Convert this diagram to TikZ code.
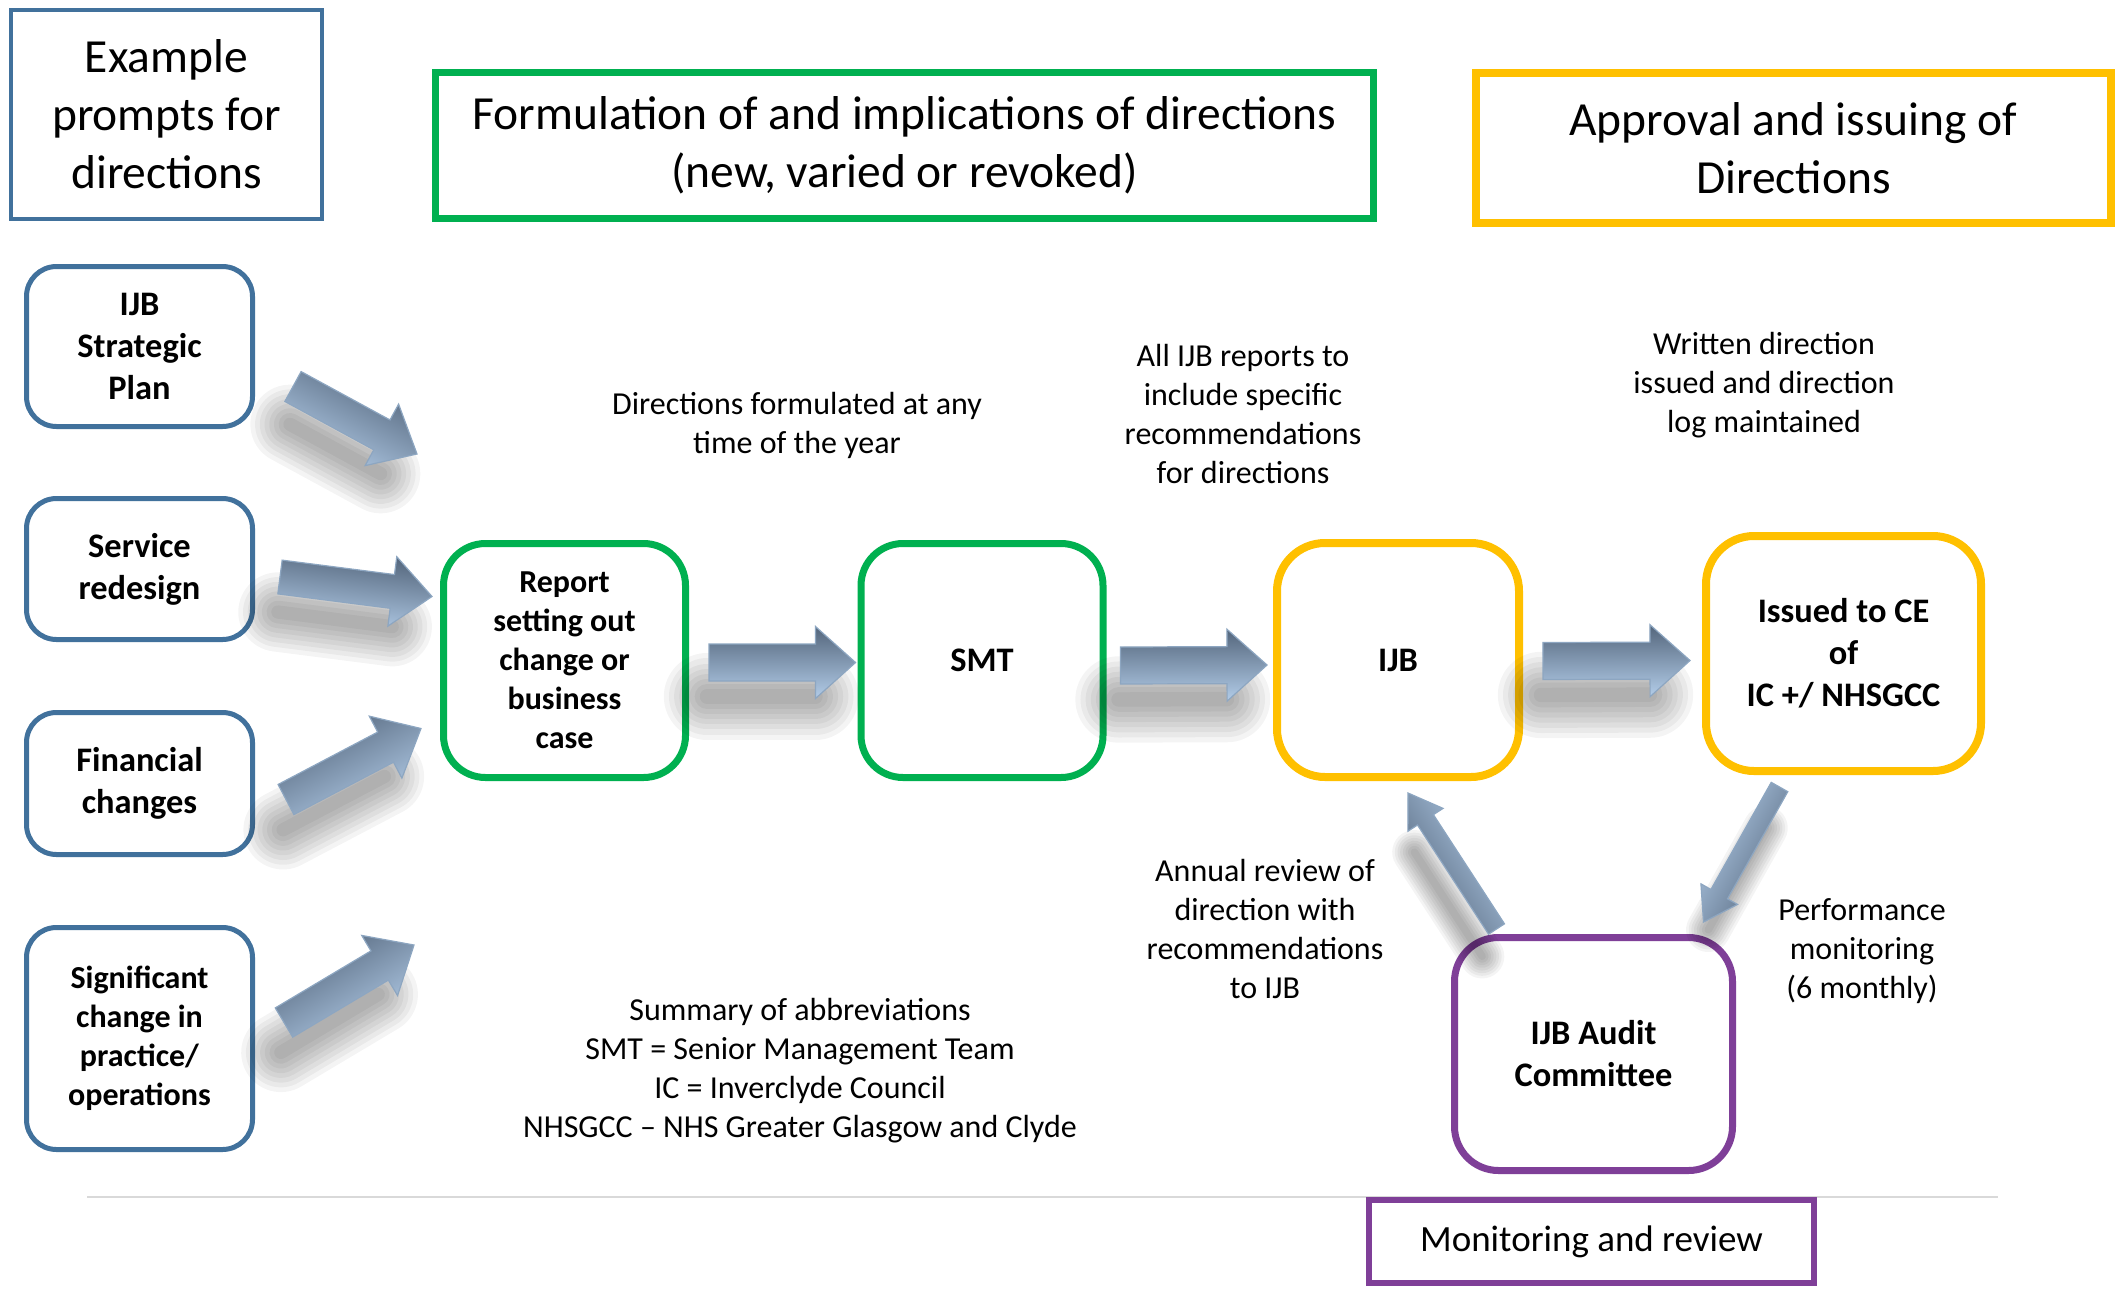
\documentclass[tikz,border=0pt]{standalone}
\usepackage{fontspec}
\setmainfont{Carlito}
\usetikzlibrary{calc}
\definecolor{bblue}{HTML}{41719C}
\definecolor{ggreen}{HTML}{00B050}
\definecolor{oorange}{HTML}{FFC000}
\definecolor{ppurple}{HTML}{7F3F98}
\definecolor{adark}{HTML}{53657B}
\definecolor{alight}{HTML}{B3CDE9}
\definecolor{aedge}{HTML}{8DA6C1}
\definecolor{lgrey}{HTML}{D9D9D9}
\newcommand\bkL{100}
\newcommand\bkA{0}
\newcommand\bkpoly[3]{(0pt,#1pt) -- ({(\bkL-#3)*1pt},#1pt) -- ({(\bkL-#3)*1pt},#2pt) -- ({\bkL*1pt},0pt) -- ({(\bkL-#3)*1pt},-#2pt) -- ({(\bkL-#3)*1pt},-#1pt) -- (0pt,-#1pt) -- cycle}
\newcommand\bkarrow[5]{%
  \path let \p1=($(#2)-(#1)$), \n1={atan2(\y1,\x1)}, \n2={veclen(\x1,\y1)} in \pgfextra{\xdef\bkA{\n1}\xdef\bkL{\n2}};
  \begin{scope}[shift={(#1)}, xshift=-10pt, yshift=-34pt, rotate=\bkA]
    \foreach \w in {84,74,64,54,44,34,24,14}{\draw[black, opacity=0.045, line width=\w*#3/18 pt, line cap=round] ({8pt},0pt) -- ({(\bkL-30)*1pt},0pt);}
  \end{scope}
  \begin{scope}[shift={(#1)}, rotate=\bkA]
    \shade[top color=adark, bottom color=alight, shading angle=\bkA, draw=aedge, line width=1.2pt] \bkpoly{#3}{#4}{#5};
  \end{scope}}
\begin{document}
\begin{tikzpicture}[x=1pt,y=-1pt,
  prompt/.style={draw=bblue, line width=5pt, rounded corners=30pt, minimum width=226pt, align=center, inner sep=0pt, font=\fontsize{34.4}{42}\selectfont\bfseries},
  gbox/.style={draw=ggreen, line width=7pt, rounded corners=42pt, minimum width=242pt, minimum height=234pt, align=center, inner sep=0pt, font=\fontsize{34.4}{42}\selectfont\bfseries},
  obox/.style={draw=oorange, line width=8pt, rounded corners=48pt, minimum height=234pt, align=center, inner sep=0pt, font=\fontsize{34.4}{42}\selectfont\bfseries},
  pbox/.style={draw=ppurple, line width=7pt, rounded corners=44pt, align=center, inner sep=0pt, font=\fontsize{34.4}{42}\selectfont\bfseries},
  headbox/.style={align=center, inner sep=0pt, font=\fontsize{47.5}{58}\selectfont},
  note/.style={align=center, inner sep=0pt, font=\fontsize{32}{39}\selectfont}]
\useasboundingbox (0,0) rectangle (2123,1288);
\fill[white] (0,0) rectangle (2123,1288);

% horizontal separator
\coordinate (sepL) at (87,1197);
\coordinate (sepR) at (1998,1197);
\draw[lgrey, line width=2.5pt] (sepL) -- (sepR);

% headers
\node[headbox, draw=bblue, line width=4pt, minimum width=311pt, minimum height=209pt] (hex) at (166.5,114.5) {Example\\prompts for\\directions};
\node[headbox, draw=ggreen, line width=7pt, minimum width=938pt, minimum height=146pt] (hform) at (904.5,145.5) {Formulation of and implications of directions\\(new, varied or revoked)};
\node[headbox, draw=oorange, line width=8pt, minimum width=635pt, minimum height=150pt] (happ) at (1793.5,148) {Approval and issuing of\\Directions};
\node[draw=ppurple, line width=6pt, fill=white, minimum width=445pt, minimum height=83pt, inner sep=0pt, font=\fontsize{37}{45}\selectfont] (mon) at (1591.5,1241.5) {Monitoring and review};

% prompt boxes
\node[prompt, minimum height=160pt] (strat) at (139.5,346.5) {IJB\\Strategic\\Plan};
\node[prompt, minimum height=141pt] (serv) at (139.5,569) {Service\\redesign};
\node[prompt, minimum height=142pt] (fin) at (139.5,783.5) {Financial\\changes};
\node[prompt, minimum height=222pt, font=\fontsize{32}{39}\selectfont\bfseries] (sig) at (139.5,1038.5) {Significant\\change in\\practice/\\operations};

% process boxes
\node[gbox, font=\fontsize{32}{39}\selectfont\bfseries] (rep) at (564.5,660.5) {Report\\setting out\\change or\\business\\case};
\node[gbox] (smt) at (982,660.5) {SMT};
\node[obox, minimum width=242pt] (ijb) at (1398,660) {IJB};
\node[obox, minimum width=275pt, minimum height=235pt] (iss) at (1843.5,653.5) {Issued to CE\\of\\IC +/ NHSGCC};
\node[pbox, minimum width=278pt, minimum height=233pt] (aud) at (1593.5,1054) {IJB Audit\\Committee};

% notes
\node[note] (n1) at (797,425) {Directions formulated at any\\time of the year};
\node[note] (n2) at (1243,414) {All IJB reports to\\include specific\\recommendations\\for directions};
\node[note] (n3) at (1764,385) {Written direction\\issued and direction\\log maintained};
\node[note] (n4) at (1265,929) {Annual review of\\direction with\\recommendations\\to IJB};
\node[note] (n5) at (1862,951) {Performance\\monitoring\\(6 monthly)};
\node[note] (n6) at (800,1071) {Summary of abbreviations\\SMT = Senior Management Team\\IC = Inverclyde Council\\NHSGCC -- NHS Greater Glasgow and Clyde};

% arrow end points
\coordinate (a1s) at ($(strat.east)+(38,40)$);
\coordinate (a1e) at ($(rep.north west)+(-23,-86)$);
\coordinate (a2s) at ($(serv.east)+(25,8)$);
\coordinate (a2e) at ($(rep.west)+(-8,-64)$);
\coordinate (a3s) at ($(fin.east)+(31,16)$);
\coordinate (a3e) at ($(rep.west)+(-19,68)$);
\coordinate (a4s) at ($(sig.east)+(29,-16)$);
\coordinate (a4e) at ($(rep.south west)+(-26,164)$);
\coordinate (a5s) at ($(rep.east)+(20,2)$);
\coordinate (a5e) at ($(smt.west)+(-2,2)$);
\coordinate (a6s) at ($(smt.east)+(14,5)$);
\coordinate (a6e) at ($(ijb.west)+(-6,5)$);
\coordinate (a7s) at ($(ijb.east)+(20,1)$);
\coordinate (a7e) at ($(iss.west)+(-12,7)$);
\coordinate (a8s) at ($(aud.north)+(-97,-5)$);
\coordinate (a8e) at ($(ijb.south)+(10,12)$);
\coordinate (a9s) at ($(iss.south)+(-64,12)$);
\coordinate (a9e) at ($(aud.north)+(110,-12)$);

\bkarrow{a1s}{a1e}{17}{35}{40}
\bkarrow{a2s}{a2e}{17}{35}{40}
\bkarrow{a3s}{a3e}{17}{35}{40}
\bkarrow{a4s}{a4e}{17}{35}{40}
\bkarrow{a5s}{a5e}{18.5}{36}{40}
\bkarrow{a6s}{a6e}{18.5}{36}{40}
\bkarrow{a7s}{a7e}{18.5}{36}{40}
\bkarrow{a8s}{a8e}{9.5}{21}{32}
\bkarrow{a9s}{a9e}{9.5}{21}{32}
\end{tikzpicture}
\end{document}
